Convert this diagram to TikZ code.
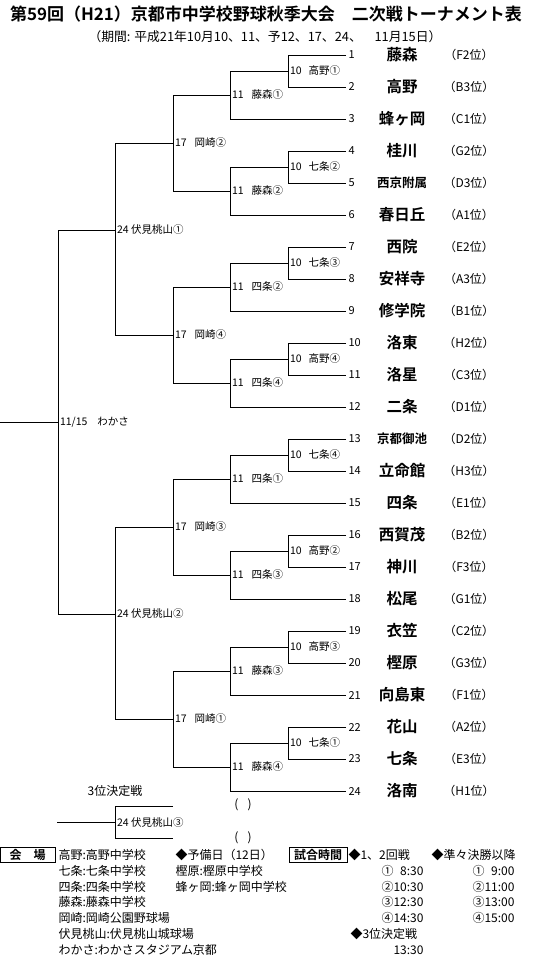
\documentclass[tikz,border=0pt]{standalone}
\usepackage{fontspec}
\setmainfont{Noto Sans CJK JP}[BoldFont={Noto Sans CJK JP Bold}]
\begin{document}
\begin{tikzpicture}[x=1pt,y=-1pt,line width=1pt,
  lbl/.style={anchor=west,inner sep=1.5pt,font=\fontsize{10.5}{11}\selectfont},
  num/.style={anchor=west,inner sep=2pt,font=\fontsize{11}{12}\selectfont},
  team/.style={inner sep=0pt,font=\bfseries\fontsize{#1}{#1}\selectfont},
  rank/.style={inner sep=0pt,font=\fontsize{12}{13}\selectfont},
  info/.style={inner sep=0pt,font=\fontsize{12}{13}\selectfont},
  hdr/.style={draw,line width=1pt,inner sep=0pt,minimum height=15pt,font=\bfseries\fontsize{12}{13}\selectfont}]
  \useasboundingbox (0,0) rectangle (533,961);
  % judul
  \node[inner sep=0pt,font=\bfseries\fontsize{17}{18}\selectfont] (title) at (266,14)
    {第59回（H21）京都市中学校野球秋季大会　二次戦トーナメント表};
  \node[inner sep=0pt,font=\fontsize{12.8}{13}\selectfont] (period) at (265,37)
    {（期間: 平成21年10月10、11、予12、17、24、　11月15日）};
  % tim
  \foreach \k/\nm/\rk/\fs in {1/藤森/F2/15.5, 2/高野/B3/15.5, 3/蜂ヶ岡/C1/15.5, 4/桂川/G2/15.5,
      5/西京附属/D3/12.5, 6/春日丘/A1/15.5, 7/西院/E2/15.5, 8/安祥寺/A3/15.5, 9/修学院/B1/15.5,
      10/洛東/H2/15.5, 11/洛星/C3/15.5, 12/二条/D1/15.5, 13/京都御池/D2/12.5, 14/立命館/H3/15.5,
      15/四条/E1/15.5, 16/西賀茂/B2/15.5, 17/神川/F3/15.5, 18/松尾/G1/15.5, 19/衣笠/C2/15.5,
      20/樫原/G3/15.5, 21/向島東/F1/15.5, 22/花山/A2/15.5, 23/七条/E3/15.5, 24/洛南/H1/15.5}{
    \pgfmathsetmacro\ty{55+32*(\k-1)}
    \coordinate (t\k) at (346,\ty);
    \node[num] (n\k) at (t\k) {\k};
    \node[team=\fs] (s\k) at (402,\ty) {\nm};
    \node[rank] (p\k) at (469,\ty) {（\rk 位）};
  }
  % babak 1
  \foreach \g/\lb in {0/高野①, 1/七条②, 2/七条③, 3/高野④, 4/七条④, 5/高野②, 6/高野③, 7/七条①}{
    \pgfmathtruncatemacro\a{3*\g+1}
    \pgfmathtruncatemacro\b{3*\g+2}
    \pgfmathsetmacro\ya{55+96*\g+16}
    \coordinate (ra\g) at (288,\ya);
    \draw (t\a) -- (t\a -| ra\g) -- (t\b -| ra\g) -- (t\b);
    \node[lbl] (la\g) at (ra\g) {10\hspace{7pt}\lb};
  }
  % babak 2
  \foreach \g/\lb in {0/藤森①, 1/藤森②, 2/四条②, 3/四条④, 4/四条①, 5/四条③, 6/藤森③, 7/藤森④}{
    \pgfmathtruncatemacro\c{3*\g+3}
    \pgfmathsetmacro\yb{55+96*\g+40}
    \coordinate (rb\g) at (230,\yb);
    \draw (ra\g) -- (ra\g -| rb\g) -- (t\c -| rb\g) -- (t\c);
    \node[lbl] (lb\g) at (rb\g) {11\hspace{8pt}\lb};
  }
  % babak 3
  \foreach \h/\lb in {0/岡崎②, 1/岡崎④, 2/岡崎③, 3/岡崎①}{
    \pgfmathtruncatemacro\p{2*\h}
    \pgfmathtruncatemacro\q{2*\h+1}
    \pgfmathsetmacro\yc{55+192*\h+88}
    \coordinate (rc\h) at (173,\yc);
    \draw (rb\p) -- (rb\p -| rc\h) -- (rb\q -| rc\h) -- (rb\q);
    \node[lbl] (lc\h) at (rc\h) {17\hspace{8pt}\lb};
  }
  % babak 4
  \foreach \h/\lb in {0/伏見桃山①, 1/伏見桃山②}{
    \pgfmathtruncatemacro\p{2*\h}
    \pgfmathtruncatemacro\q{2*\h+1}
    \pgfmathsetmacro\yd{55+384*\h+175}
    \coordinate (rd\h) at (115,\yd);
    \draw (rc\p) -- (rc\p -| rd\h) -- (rc\q -| rd\h) -- (rc\q);
    \node[lbl] (ld\h) at (rd\h) {24 \lb};
  }
  % final
  \coordinate (re) at (58,422);
  \coordinate (champ) at (0,422);
  \draw (rd0) -- (rd0 -| re) -- (rd1 -| re) -- (rd1);
  \draw (champ) -- (re);
  \node[lbl] (le) at (re) {11/15\hspace{10pt}わかさ};
  % perebutan tempat 3
  \node[info] (third) at (115,791) {3位決定戦};
  \coordinate (rf) at (115,822);
  \coordinate (loser1) at (173,806);
  \coordinate (loser2) at (173,838);
  \coordinate (third3) at (57,822);
  \draw (loser1) -- (loser1 -| rf) -- (loser2 -| rf) -- (loser2);
  \draw (third3) -- (rf);
  \node[lbl] (lf) at (rf) {24 伏見桃山③};
  \node[info] (win1) at (243,805) {(\hspace{9pt})};
  \node[info] (win2) at (243,838) {(\hspace{9pt})};
  % tabel keterangan
  \node[hdr,minimum width=55pt] (venue) at (27.5,854.5) {会\hspace{12pt}場};
  \foreach \i/\txt in {1/高野:高野中学校, 2/七条:七条中学校, 3/四条:四条中学校, 4/藤森:藤森中学校,
      5/岡崎:岡崎公園野球場, 6/伏見桃山:伏見桃山城球場, 7/わかさ:わかさスタジアム京都}{
    \node[info,anchor=west] (v\i) at (58,{855+15.8*(\i-1)}) {\txt};
  }
  \foreach \i/\txt in {1/◆予備日（12日）, 2/樫原:樫原中学校, 3/蜂ヶ岡:蜂ヶ岡中学校}{
    \node[info,anchor=west] (w\i) at (175,{855+15.8*(\i-1)}) {\txt};
  }
  \node[hdr,minimum width=58pt] (timebox) at (318,854.5) {試合時間};
  \node[info,anchor=west] (h1) at (348,855) {◆1、2回戦};
  \node[info,anchor=west] (h2) at (431,855) {◆準々決勝以降};
  \foreach \i/\ta/\tb in {2/①\phantom{1}8:30/①\phantom{1}9:00, 3/②10:30/②11:00,
      4/③12:30/③13:00, 5/④14:30/④15:00}{
    \node[info,anchor=east] (x\i) at (424,{855+15.8*(\i-1)}) {\ta};
    \node[info,anchor=east] (y\i) at (515,{855+15.8*(\i-1)}) {\tb};
  }
  \node[info,anchor=west] (h3) at (350,934) {◆3位決定戦};
  \node[info,anchor=east] (x7) at (424,950) {13:30};
\end{tikzpicture}
\end{document}
